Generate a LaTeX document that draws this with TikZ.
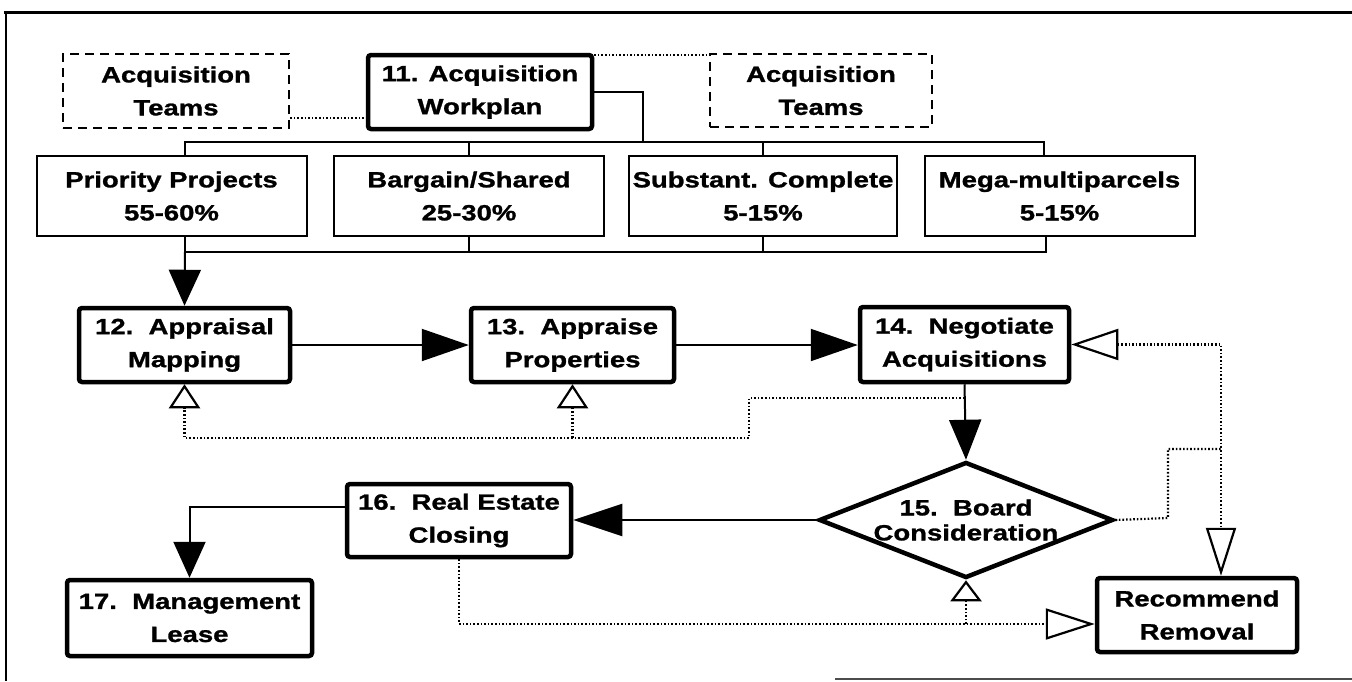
\documentclass[tikz,border=0pt]{standalone}
\usepackage{fontspec}
\newfontfamily\dfont{Liberation Sans}[FakeStretch=1.25, FakeBold=1.2]
\usetikzlibrary{arrows.meta,shapes.geometric}
\tikzset{
  base/.style={align=center, inner sep=0pt, font=\dfont\bfseries\fontsize{22}{33}\selectfont},
  thickbox/.style={base, draw, line width=4.5pt, rounded corners=3pt, fill=white},
  catbox/.style={base, draw, line width=2pt, fill=white},
  dashbox/.style={base, draw, line width=2.5pt, dash pattern=on 9pt off 6pt},
  conn/.style={line width=2pt},
  dotln/.style={line width=2.2pt, dash pattern=on 1.6pt off 2pt},
  fhead/.style={-{Triangle[length=#1, width=32pt]}},
  ohead/.style={-{Triangle[open, fill=white, length=#1, width=31pt]}}
}
\begin{document}
\begin{tikzpicture}[x=1pt,y=-1pt]
\useasboundingbox (0,0) rectangle (1352,681);
% frame
\draw[line width=3pt] (4,12) -- (1352,12);
\draw[line width=2pt] (6,12) -- (6,681);
\draw[line width=2pt, black!70] (835,679) -- (1352,679);

% top row
\node[dashbox, minimum width=226pt, minimum height=74pt] (teamsL) at (176,91) {Acquisition\\Teams};
\node[thickbox, minimum width=224pt, minimum height=74pt] (wp) at (480,92) {11. Acquisition\\Workplan};
\node[dashbox, minimum width=222pt, minimum height=73pt] (teamsR) at (821,90.5) {Acquisition\\Teams};

% categories
\node[catbox, minimum width=270pt, minimum height=80pt] (prio) at (171.5,196) {Priority Projects\\55-60\%};
\node[catbox, minimum width=270pt, minimum height=80pt] (barg) at (469,196) {Bargain/Shared\\25-30\%};
\node[catbox, minimum width=268pt, minimum height=80pt] (subst) at (763,196) {Substant. Complete\\5-15\%};
\node[catbox, minimum width=270pt, minimum height=80pt] (mega) at (1059.5,196) {Mega-multiparcels\\5-15\%};

% process boxes
\node[thickbox, minimum width=211pt, minimum height=74pt] (n12) at (184.5,345) {12.\ \ Appraisal\\Mapping};
\node[thickbox, minimum width=203pt, minimum height=74pt] (n13) at (572.5,345) {13.\ \ Appraise\\Properties};
\node[thickbox, minimum width=209pt, minimum height=75pt] (n14) at (964.5,344.5) {14.\ \ Negotiate\\Acquisitions};
\node[base, draw, diamond, aspect=2.48, line width=4.5pt, minimum width=294pt, minimum height=116pt, font=\dfont\bfseries\fontsize{22}{25}\selectfont] (n15) at (966,520) {15.\ \ Board\\Consideration};
\node[thickbox, minimum width=224pt, minimum height=73pt] (n16) at (459,520.5) {16.\ \ Real Estate\\Closing};
\node[thickbox, minimum width=245pt, minimum height=76pt] (n17) at (189.5,618) {17.\ \ Management\\Lease};
\node[thickbox, minimum width=200pt, minimum height=74pt] (rec) at (1197,615) {Recommend\\Removal};

% coordinates
\coordinate (tbL) at (185,142);
\coordinate (tbR) at (1044,142);
\coordinate (bbL) at (185,252);
\coordinate (bbR) at (1046,252);
\coordinate (wpj) at (643,142);
\coordinate (jx) at (1221,0);

% team links
\draw[dotln] (teamsL.east |- 0,118) -- (wp.west |- 0,118);
\draw[dotln] (wp.east |- 0,55) -- (teamsR.west |- 0,55);

% workplan to categories
\draw[conn] (wp.east |- 0,92) -| (wpj);
\draw[conn] (prio.north -| tbL) -- (tbL) -- (tbR) -- (mega.north -| tbR);
\draw[conn] (barg.north) -- (barg.north |- tbL);
\draw[conn] (subst.north) -- (subst.north |- tbL);
\draw[conn] (prio.south -| bbL) -- (bbL) -- (bbR) -- (mega.south -| bbR);
\draw[conn] (barg.south) -- (barg.south |- bbL);
\draw[conn] (subst.south) -- (subst.south |- bbL);
\draw[conn, fhead=36pt] (bbL) -- (n12.north);

% main flow
\draw[conn, fhead=47pt] (n12.east) -- (n13.west);
\draw[conn, fhead=47pt] (n13.west -| n13.east) -- (n14.west |- n13.east);
\draw[conn, fhead=40pt] (n14.south) -- (n15.north);
\draw[conn, fhead=49pt] (n15.west) -- (n15.west -| n16.east);
\draw[conn, fhead=36pt] (n16.west |- 0,507) -| (n17.north);

% feedback from 14
\coordinate (fb0) at (n14.south |- 0,398);
\draw[dotln, ohead=24pt] (fb0) -- (749,398) -- (749,438) -- (n12.south |- 0,438) -- (n12.south);
\draw[dotln, ohead=24pt] (n13.south |- 0,438) -- (n13.south);

% 15 to 14 and removal
\draw[dotln, {Triangle[open, fill=white, length=47pt, width=31pt]}-{Triangle[open, fill=white, length=48pt, width=30pt]}] (n14.east) -- (n14.east -| jx) -- (rec.north -| jx);
\draw[dotln] (n15.east) -- (1168,518) |- (jx |- 0,449);

% 16 to 15 and removal
\draw[dotln, ohead=49pt] (n16.south) |- (rec.west |- 0,624);
\draw[dotln, ohead=21pt] (n15.south |- 0,624) -- (n15.south);
\end{tikzpicture}
\end{document}
